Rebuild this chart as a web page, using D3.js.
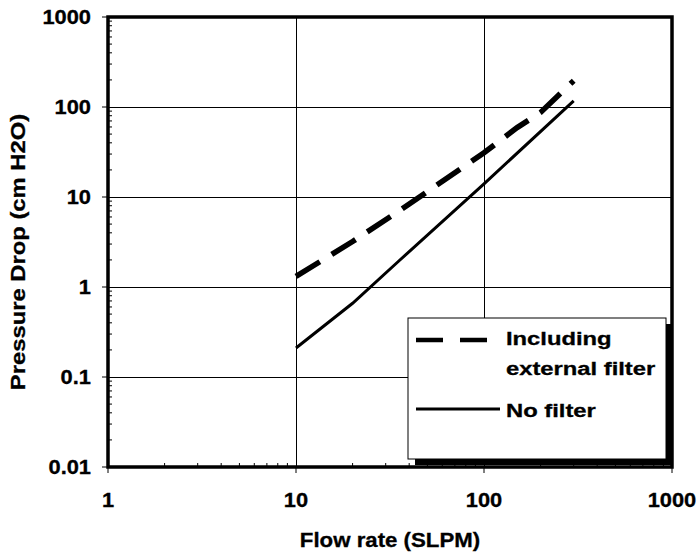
<!DOCTYPE html>
<html>
<head>
<meta charset="utf-8">
<script src="https://cdn.jsdelivr.net/npm/d3@7"></script>
<style>
  html, body { margin: 0; padding: 0; background: #fff; }
  svg { display: block; }
  text { font-family: "Liberation Sans", Arial, sans-serif; font-weight: bold; fill: #000; }
</style>
</head>
<body>
<svg id="chart" width="699" height="556"></svg>
<script>
// ---- data ----
const xTickValues = [1, 10, 100, 1000];
const xTickLabels = ["1", "10", "100", "1000"];
const yTickValues = [0.01, 0.1, 1, 10, 100, 1000];
const yTickLabels = ["0.01", "0.1", "1", "10", "100", "1000"];

const filterFlow = [10, 20, 35, 100, 150, 200, 300];
const filterDrop = [1.31, 3.2, 6.9, 31, 59, 87, 196];

const noFilterFlow = [10, 20, 35, 100, 300];
const noFilterDrop = [0.21, 0.66, 1.92, 14, 117];

const seriesNames = ["Including\nexternal filter", "No filter"];
const xTitle = "Flow rate (SLPM)";
const yTitle = "Pressure Drop (cm H2O)";

// ---- layout ----
const svg = d3.select("#chart");
const L = 108, R = 672, T = 17, B = 467;

const x = d3.scaleLog().domain([1, 1000]).range([L, R]);
const y = d3.scaleLog().domain([0.01, 1000]).range([B, T]);

function stretch(sel, f) {
  sel.each(function () {
    const w = this.getComputedTextLength();
    this.setAttribute("textLength", w * f);
    this.setAttribute("lengthAdjust", "spacingAndGlyphs");
  });
}

// gridlines
const g = svg.append("g");
g.selectAll("line.vg").data(xTickValues.filter(v => v > 1 && v < 1000)).join("line")
  .attr("x1", d => x(d)).attr("x2", d => x(d)).attr("y1", T).attr("y2", B)
  .attr("stroke", "#000").attr("stroke-width", 1).attr("shape-rendering", "crispEdges");
g.selectAll("line.hg").data(yTickValues.filter(v => v > 0.01 && v < 1000)).join("line")
  .attr("x1", L).attr("x2", R).attr("y1", d => y(d)).attr("y2", d => y(d))
  .attr("stroke", "#000").attr("stroke-width", 1).attr("shape-rendering", "crispEdges");

// series
const line = d3.line().x(d => x(d[0])).y(d => y(d[1]));
const filterData = filterFlow.map((f, i) => [f, filterDrop[i]]);
const noFilterData = noFilterFlow.map((f, i) => [f, noFilterDrop[i]]);

svg.append("path").datum(noFilterData).attr("d", line)
  .attr("fill", "none").attr("stroke", "#000").attr("stroke-width", 3);
svg.append("path").datum(filterData).attr("d", line)
  .attr("fill", "none").attr("stroke", "#000").attr("stroke-width", 5.5)
  .attr("stroke-dasharray", "28,14");

// minor ticks
const minors = [];
[1, 10, 100].forEach(d => { for (let k = 2; k <= 9; k++) minors.push(d * k); });
const yMinors = [];
[0.01, 0.1, 1, 10, 100].forEach(d => { for (let k = 2; k <= 9; k++) yMinors.push(d * k); });

svg.append("g").selectAll("line").data(minors).join("line")
  .attr("x1", d => x(d)).attr("x2", d => x(d)).attr("y1", B).attr("y2", B - 4)
  .attr("stroke", "#000").attr("stroke-width", 1);
svg.append("g").selectAll("line").data(yMinors).join("line")
  .attr("x1", L).attr("x2", L + 4).attr("y1", d => y(d)).attr("y2", d => y(d))
  .attr("stroke", "#000").attr("stroke-width", 1);

// major ticks (outward)
svg.append("g").selectAll("line").data(xTickValues).join("line")
  .attr("x1", d => x(d)).attr("x2", d => x(d)).attr("y1", B).attr("y2", B + 6)
  .attr("stroke", "#000").attr("stroke-width", 1);
svg.append("g").selectAll("line").data(yTickValues).join("line")
  .attr("x1", L - 6).attr("x2", L).attr("y1", d => y(d)).attr("y2", d => y(d))
  .attr("stroke", "#000").attr("stroke-width", 1);

// legend
const lx = 408, ly = 318, lw = 258, lh = 141;
svg.append("rect").attr("x", lx + 7).attr("y", ly + 6).attr("width", lw).attr("height", lh).attr("fill", "#000");
svg.append("rect").attr("x", lx).attr("y", ly).attr("width", lw).attr("height", lh)
  .attr("fill", "#fff").attr("stroke", "#000").attr("stroke-width", 1);
svg.append("line").attr("x1", 416).attr("x2", 488).attr("y1", 340).attr("y2", 340)
  .attr("stroke", "#000").attr("stroke-width", 4.5).attr("stroke-dasharray", "27,17");
svg.append("line").attr("x1", 416).attr("x2", 500).attr("y1", 409).attr("y2", 409)
  .attr("stroke", "#000").attr("stroke-width", 3);
const legLines = seriesNames[0].split("\n");
const legText = svg.append("g").style("stroke", "#000").style("stroke-width", 0.3);
legText.append("text").attr("x", 506).attr("y", 345).attr("font-size", 18).text(legLines[0]);
legText.append("text").attr("x", 506).attr("y", 375).attr("font-size", 18).text(legLines[1]);
legText.append("text").attr("x", 506).attr("y", 416.5).attr("font-size", 18).text(seriesNames[1]);
stretch(legText.selectAll("text"), 1.32);

// plot border (thick)
svg.append("rect").attr("x", L).attr("y", T).attr("width", R - L).attr("height", B - T)
  .attr("fill", "none").attr("stroke", "#000").attr("stroke-width", 3.5);

// tick labels
const xl = svg.append("g").style("stroke", "#000").style("stroke-width", 0.3)
  .selectAll("text").data(xTickValues).join("text")
  .attr("x", d => x(d)).attr("y", 507).attr("text-anchor", "middle").attr("font-size", 19.5)
  .text((d, i) => xTickLabels[i]);
stretch(xl, 1.12);
const yl = svg.append("g").style("stroke", "#000").style("stroke-width", 0.3)
  .selectAll("text").data(yTickValues).join("text")
  .attr("x", 91).attr("y", d => y(d) + 7).attr("text-anchor", "end").attr("font-size", 19.5)
  .text((d, i) => yTickLabels[i]);
stretch(yl, 1.12);

// axis titles
const xt = svg.append("text").attr("x", (L + R) / 2).attr("y", 547).attr("text-anchor", "middle")
  .attr("font-size", 19.5).style("stroke", "#000").style("stroke-width", 0.3).text(xTitle);
stretch(xt, 1.14);
const yt = svg.append("text").attr("transform", "translate(25,252) rotate(-90)")
  .attr("text-anchor", "middle").attr("font-size", 19.5).style("stroke", "#000").style("stroke-width", 0.3).text(yTitle);
stretch(yt, 1.22);
</script>
</body>
</html>
